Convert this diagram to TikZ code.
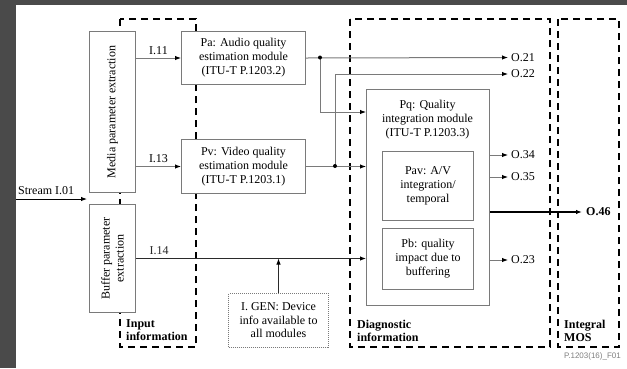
\documentclass[tikz,border=0pt]{standalone}
\usepackage{fontspec}
\setmainfont{Liberation Serif}
\newfontfamily\footfont{Liberation Sans}
\usetikzlibrary{arrows.meta}
\definecolor{frame}{HTML}{4A4A4A}
\definecolor{ln}{HTML}{7A7A7A}
\definecolor{dk}{HTML}{2A2A2A}
\begin{document}
\begin{tikzpicture}[x=1pt,y=-1pt,
  txt/.style={font=\fontsize{12}{14}\selectfont, align=center, inner sep=0pt},
  btxt/.style={font=\bfseries\fontsize{12}{13}\selectfont, align=left, inner sep=0pt},
  box/.style={draw=ln, line width=1pt, fill=white, anchor=north west, inner sep=0pt},
  grp/.style={draw=black, line width=1.4pt, dash pattern=on 7pt off 5pt},
  conn/.style={draw=ln, line width=1pt},
  arr/.style={-{Latex[length=6pt,width=4.5pt,color=black]}},
  dot/.style={circle, fill=black, inner sep=0pt, minimum size=4pt}]
\useasboundingbox (0,0) rectangle (627,368);
\fill[frame] (0,0) rectangle (627,368);
\fill[white] (16,5) rectangle (627,368);
% group frames
\draw[grp] (120,19) rectangle (196,347);
\draw[grp] (350,19) rectangle (550,347);
\draw[grp] (558,19) rectangle (619,347);
% boxes
\node[box, minimum width=46pt, minimum height=161pt] (media) at (89,31) {};
\node[txt, rotate=90] at (media.center) {Media parameter extraction};
\node[box, minimum width=46pt, minimum height=108pt] (buffer) at (89,204) {};
\node[txt, rotate=90] at (buffer.center) {Buffer parameter\\extraction};
\node[box, txt, minimum width=124pt, minimum height=53pt] (pa) at (181,31) {Pa: Audio quality\\estimation module\\(ITU-T P.1203.2)};
\node[box, txt, minimum width=124pt, minimum height=54pt] (pv) at (181,139) {Pv: Video quality\\estimation module\\(ITU-T P.1203.1)};
\node[box, minimum width=123pt, minimum height=216pt] (pq) at (366,89) {};
\node[txt] (pqt) at (427.5,120) {Pq: Quality\\integration module\\(ITU-T P.1203.3)};
\node[box, txt, minimum width=91pt, minimum height=69pt] (pav) at (382,151) {Pav: A/V\\integration/\\temporal};
\node[box, txt, minimum width=91pt, minimum height=61pt] (pb) at (382,228) {Pb: quality\\impact due to\\buffering};
\node[box, txt, draw=ln, densely dotted, minimum width=100pt, minimum height=54pt, font=\fontsize{12}{13.5}\selectfont] (igen) at (228,293) {I. GEN: Device\\info available to\\all modules};
% coordinates
\coordinate (s0) at (16,199);
\coordinate (s1) at (87,199);
\coordinate (d1) at (320,57.5);
\coordinate (d2) at (335,166);
\coordinate (y112) at (0,112);
\coordinate (o21) at (508,57.5);
\coordinate (o22) at (508,74);
\coordinate (o34) at (508,155);
\coordinate (o35) at (508,177);
\coordinate (o46) at (582,212);
\coordinate (o23) at (508,260);
% connectors
\draw[black, line width=1pt, arr] (s0) -- (s1);
\node[txt, anchor=south west] (stream) at (18,195) {Stream I.01};
\draw[conn, arr] (media.east |- pa.west) -- node[txt, above=3pt] (i11) {I.11} (pa.west);
\draw[conn, arr] (media.east |- pv.west) -- node[txt, above=3pt] (i13) {I.13} (pv.west);
\draw[dk, line width=1pt, arr] (buffer.east) -- node[txt, pos=0.1, above=3pt] (i14) {I.14} (pq.west |- buffer.east);
\draw[dk, line width=1pt, arr] (igen.north) -- (igen.north |- buffer.east);
\draw[conn, arr] (pa.east) -- (o21);
\draw[conn, arr] (d1) |- (pq.west |- y112);
\draw[conn, arr] (pv.east) -- (pq.west |- pv.east);
\draw[conn, arr] (d2) |- (o22);
\node[dot] at (d1) {};
\node[dot] at (d2) {};
\draw[conn, arr] (pq.east |- o34) -- (o34);
\draw[conn, arr] (pq.east |- o35) -- (o35);
\draw[conn, arr] (pq.east |- o23) -- (o23);
\draw[black, line width=1.4pt, arr] (pq.east |- o46) -- (o46);
% output labels
\node[txt, anchor=west] at ([xshift=3pt]o21) {O.21};
\node[txt, anchor=west] at ([xshift=3pt]o22) {O.22};
\node[txt, anchor=west] at ([xshift=3pt]o34) {O.34};
\node[txt, anchor=west] at ([xshift=3pt]o35) {O.35};
\node[txt, anchor=west] at ([xshift=3pt]o23) {O.23};
\node[txt, font=\bfseries\fontsize{12}{14}\selectfont, anchor=west] at ([xshift=4pt]o46) {O.46};
% group labels
\node[btxt, anchor=west] at (126,330.5) {Input\\information};
\node[btxt, anchor=west] at (357,330.5) {Diagnostic\\information};
\node[btxt, anchor=west] at (564,330.5) {Integral\\MOS};
\node[inner sep=0pt, anchor=east, text=gray, font=\footfont\fontsize{8}{9}\selectfont] at (621,356) {P.1203(16)\_F01};
\end{tikzpicture}
\end{document}
